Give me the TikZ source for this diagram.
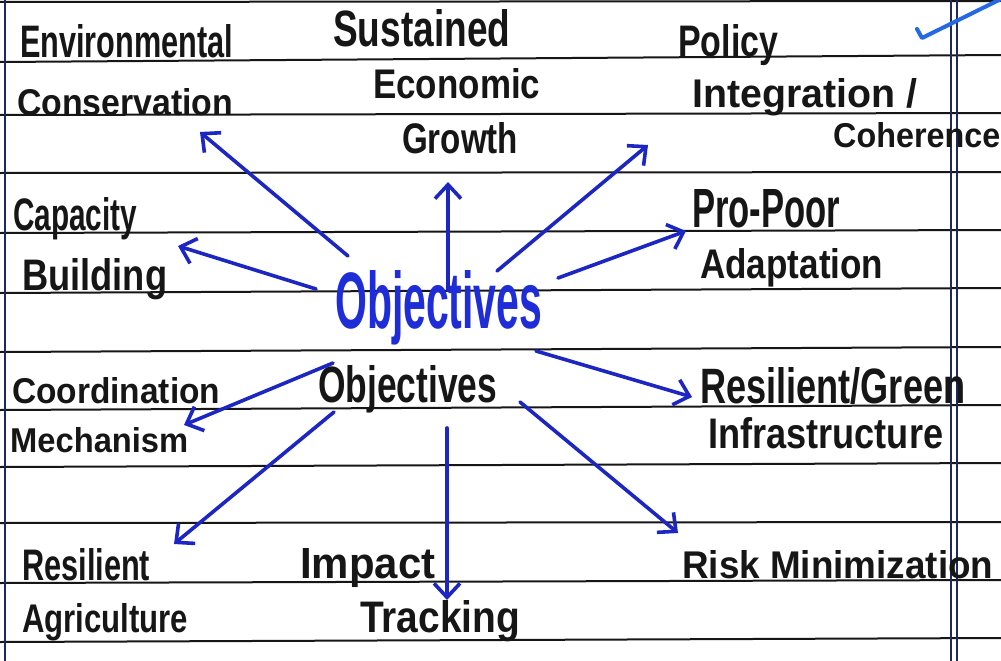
\documentclass[tikz,border=0pt]{standalone}
\usepackage{fontspec}
\setmainfont{Liberation Sans}
\usetikzlibrary{arrows.meta}
\definecolor{ink}{RGB}{22,22,22}
\definecolor{pen}{RGB}{28,38,195}
\definecolor{objblue}{RGB}{30,45,215}
\definecolor{tickblue}{RGB}{35,105,230}
\definecolor{marginblue}{RGB}{30,40,95}
\newcommand{\hw}[3]{\resizebox{#1pt}{#2pt}{#3}}
\begin{document}
\begin{tikzpicture}[x=1pt,y=-1pt,
 lbl/.style={anchor=base west, inner sep=0pt, text=ink, font=\bfseries},
 arr/.style={pen, line width=3.6pt, line cap=round, line join=round,
   -{Straight Barb[length=14pt,width=26pt,line width=3.6pt]}},
 rule/.style={ink, line width=2pt}]
\useasboundingbox (0,0) rectangle (1001,661);
\fill[white] (0,0) rectangle (1001,661);
% ruled lines
\draw[rule] (0,2) -- (1001,1);
\foreach \l/\r in {62/55,115/113,173/172,233/230,293/288,352/347,410/405,467/463,523/522,583/580,642/638}
  \draw[rule] (0,\l) -- (1001,\r);
% margins
\draw[marginblue, line width=1.8pt] (5,0) -- (5,661);
\draw[marginblue, line width=1.5pt] (951,0) -- (951,661);
\draw[marginblue, line width=1.5pt] (957,0) -- (957,661);
% check mark
\draw[tickblue, line width=4pt, line cap=round, line join=round] (917,29) -- (922,38) -- (1003,-2);
% labels
\node[lbl] (env) at (20,58) {\hw{213}{33}{Environmental}};
\node[lbl] (cons) at (17,115) {\hw{216}{27}{Conservation}};
\node[lbl] (sus) at (333,47) {\hw{177}{37}{Sustained}};
\node[lbl] (eco) at (373,98) {\hw{167}{30}{Economic}};
\node[lbl] (gro) at (402,153) {\hw{116}{31}{Growth}};
\node[lbl] (pol) at (678,57) {\hw{100}{32}{Policy}};
\node[lbl] (integ) at (692,107) {\hw{225}{29}{Integration /}};
\node[lbl] (coh) at (833,147) {\hw{167}{25}{Coherence}};
\node[lbl] (cap) at (13,230) {\hw{124}{33}{Capacity}};
\node[lbl] (bui) at (22,290) {\hw{145}{32}{Building}};
\node[lbl] (pro) at (692,227) {\hw{148}{38}{Pro-Poor}};
\node[lbl] (adapt) at (700,278) {\hw{183}{30}{Adaptation}};
\node[lbl,text=objblue] (obj) at (335,328) {\hw{207}{58}{Objectives}};
\node[lbl] (obj2) at (318,402) {\hw{179}{37}{Objectives}};
\node[lbl] (coord) at (12,403) {\hw{208}{26}{Coordination}};
\node[lbl] (mech) at (10,452) {\hw{178}{25}{Mechanism}};
\node[lbl] (resg) at (700,403) {\hw{265}{36}{Resilient/Green}};
\node[lbl] (infra) at (708,448) {\hw{235}{31}{Infrastructure}};
\node[lbl] (resag) at (22,580) {\hw{128}{32}{Resilient}};
\node[lbl] (agri) at (22,632) {\hw{166}{29}{Agriculture}};
\node[lbl] (imp) at (300,578) {\hw{135}{30}{Impact}};
\node[lbl] (track) at (360,632) {\hw{160}{32}{Tracking}};
\node[lbl] (risk) at (682,578) {\hw{311}{28}{Risk Minimization}};
% arrow end points
\coordinate (s1) at (348,256);  \coordinate (t1) at (200,132);
\coordinate (s2) at (316,289);  \coordinate (t2) at (178,246);
\coordinate (s3) at (448,290);  \coordinate (t3) at (448,182);
\coordinate (s4) at (497,271);  \coordinate (t4) at (648,145);
\coordinate (s5) at (558,278);  \coordinate (t5) at (686,231);
\coordinate (s6) at (536,351);  \coordinate (t6) at (692,397);
\coordinate (s7) at (520,402);  \coordinate (t7) at (678,533);
\coordinate (s8) at (447,428);  \coordinate (t8) at (447,600);
\coordinate (s9) at (334,412);  \coordinate (t9) at (174,544);
\coordinate (s10) at (333,363); \coordinate (t10) at (184,425);
\foreach \i in {1,...,10} \draw[arr] (s\i) -- (t\i);
\end{tikzpicture}
\end{document}
